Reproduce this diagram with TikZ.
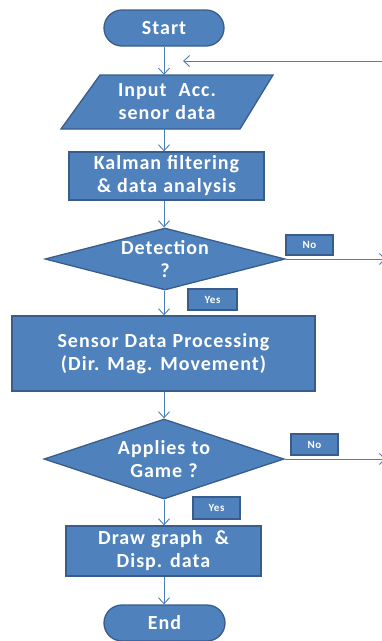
\documentclass[tikz,border=0pt]{standalone}
\usepackage{fontspec}
\setmainfont{Carlito}
\newfontfamily\boxfont[LetterSpace=5,WordSpace=1.1]{Carlito}
\usetikzlibrary{shapes.geometric,arrows.meta}
\definecolor{fillb}{HTML}{4F81BD}
\definecolor{edgeb}{HTML}{385D8A}
\definecolor{lineb}{HTML}{4A7EBB}
\begin{document}
\begin{tikzpicture}[x=1pt,y=-1pt,
  box/.style={draw=edgeb,fill=fillb,line width=1.3pt,text=white,
    font=\boxfont\fontsize{20}{23}\selectfont\bfseries,align=center,inner sep=0pt},
  term/.style={box,rounded corners=18pt,minimum width=120pt,minimum height=36pt},
  proc/.style={box,rectangle},
  dec/.style={box,diamond,aspect=3.5},
  dectext/.style={text=white,font=\boxfont\fontsize{20}{23}\selectfont\bfseries,align=center},
  tag/.style={draw=edgeb,fill=fillb,line width=1.3pt,text=white,
    font=\boxfont\fontsize{11}{13}\selectfont\bfseries,inner sep=0pt},
  conn/.style={draw=lineb,line width=0.9pt,-{Straight Barb[length=6pt,width=11pt]}}
]
\useasboundingbox (0,0) rectangle (382,641);

\node[term] (start) at (164,28) {Start};

\draw[box] (100,75) -- (273,75) -- (240,129) -- (61,129) -- cycle;
\node[dectext,minimum width=212pt,minimum height=54pt,inner sep=0pt] (inp) at (167,102) {Input~~Acc.\\senor data};

\node[proc,minimum width=195pt,minimum height=48pt] (kal) at (166.5,176) {Kalman filtering\\\& data analysis};

\node[dec,minimum width=240pt,minimum height=62pt,
  label={[dectext]center:Detection\\?}] (det) at (165,259) {};

\node[tag,minimum width=47pt,minimum height=20pt] (no1) at (309.5,245) {No};
\node[tag,minimum width=49pt,minimum height=21pt] (yes1) at (212.5,299.5) {Yes};

\node[proc,minimum width=303pt,minimum height=75pt] (sen) at (163.5,353.5) {Sensor Data Processing\\(Dir. Mag. Movement)};

\node[dec,minimum width=240pt,minimum height=80pt,
  label={[dectext]center:Applies to\\Game ?}] (game) at (164,459) {};

\node[tag,minimum width=47pt,minimum height=21pt] (no2) at (314.5,444.5) {No};
\node[tag,minimum width=47pt,minimum height=22pt] (yes2) at (216.5,508) {Yes};

\node[proc,minimum width=195pt,minimum height=50pt] (disp) at (163.5,551) {Draw graph~~\&\\Disp. data};

\node[term,minimum width=121pt] (end) at (164.5,623) {End};

\coordinate (backstart) at (384,61);
\coordinate (backend) at (183,61);
\coordinate (noend1) at (386,259);
\coordinate (noend2) at (386,459);

\draw[conn] (start.south) -- (start.south |- inp.north);
\draw[conn] (backstart) -- (backend);
\draw[conn] (start.south |- inp.south) -- (start.south |- kal.north);
\draw[conn] (start.south |- kal.south) -- (start.south |- det.north);
\draw[conn] (det.east) -- (noend1);
\draw[conn] (start.south |- det.south) -- (start.south |- sen.north);
\draw[conn] (start.south |- sen.south) -- (start.south |- game.north);
\draw[conn] (game.east) -- (noend2);
\draw[conn] (start.south |- game.south) -- (start.south |- disp.north);
\draw[conn] (start.south |- disp.south) -- (start.south |- end.north);
\end{tikzpicture}
\end{document}
